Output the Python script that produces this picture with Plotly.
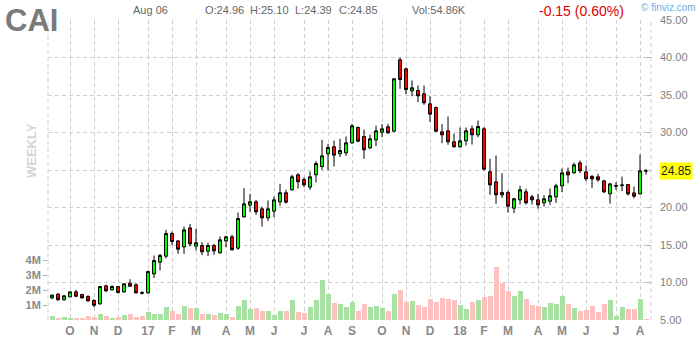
import pandas as pd
import plotly.graph_objects as go

# ---------------- data ----------------
week_start = "2016-09-12"
n_weeks = 100
dates = pd.date_range(week_start, periods=n_weeks, freq="7D")

open_ = [7.95, 8.44, 7.69, 8.09, 8.75, 8.40, 8.13, 7.60, 7.15, 9.55,
         9.02, 9.46, 8.75, 9.91, 9.69, 8.66, 8.62, 11.15, 12.71, 13.51,
         16.53, 15.55, 14.75, 17.28, 14.85, 14.93, 14.18, 14.93, 13.96, 15.55,
         16.09, 14.58, 18.75, 20.31, 20.76, 19.82, 18.62, 19.51, 20.76, 21.96,
         22.36, 24.36, 23.73, 22.71, 24.36, 25.47, 27.16, 28.09, 27.16, 27.29,
         28.62, 30.67, 29.47, 27.96, 29.02, 30.04, 30.76, 30.18, 39.69, 38.49,
         35.55, 35.60, 35.16, 33.82, 33.33, 30.09, 30.22, 28.76, 28.09, 28.89,
         30.49, 29.69, 30.49, 24.76, 23.42, 22.00, 22.00, 19.91, 21.02, 22.09,
         21.42, 21.02, 20.62, 20.84, 21.42, 22.89, 24.75, 24.62, 25.95, 24.75,
         24.13, 24.09, 23.55, 21.82, 22.82, 22.93, 23.06, 21.95, 21.82, 24.96]
high = [8.40, 8.62, 8.35, 8.84, 9.00, 8.49, 8.31, 7.78, 9.55, 9.73,
        9.64, 9.55, 9.91, 10.44, 9.91, 8.84, 11.60, 13.60, 13.82, 17.02,
        16.80, 15.68, 17.46, 17.82, 17.20, 15.38, 15.29, 15.15, 16.13, 16.22,
        16.36, 19.33, 22.58, 21.82, 21.02, 20.13, 20.93, 21.47, 23.16, 22.36,
        24.36, 24.58, 24.04, 24.80, 26.18, 29.02, 28.49, 28.93, 29.16, 29.47,
        31.16, 30.80, 30.40, 29.73, 30.93, 31.11, 31.16, 37.24, 40.00, 38.67,
        36.93, 36.27, 36.27, 34.84, 33.47, 31.11, 32.13, 29.87, 30.67, 30.67,
        30.93, 31.60, 30.71, 26.49, 26.93, 24.58, 22.27, 21.29, 22.89, 22.49,
        21.69, 21.82, 21.64, 22.53, 23.16, 25.20, 25.33, 26.00, 26.27, 25.60,
        24.35, 24.49, 23.69, 23.29, 23.38, 24.13, 23.15, 22.80, 27.06, 25.10]
low = [7.78, 7.60, 7.60, 8.04, 8.04, 7.86, 7.47, 6.71, 7.06, 8.75,
       8.93, 8.57, 8.66, 9.42, 8.53, 8.40, 8.53, 10.60, 11.60, 13.20,
       14.97, 13.82, 13.82, 14.80, 14.27, 13.64, 13.51, 13.69, 13.82, 14.71,
       14.27, 14.36, 18.67, 19.42, 19.02, 17.47, 18.18, 18.71, 20.22, 20.53,
       22.27, 22.53, 22.71, 22.36, 23.33, 25.02, 24.93, 25.47, 26.71, 26.89,
       28.49, 28.71, 26.49, 27.78, 28.18, 29.38, 29.82, 30.04, 35.82, 35.11,
       34.84, 34.04, 33.69, 31.38, 30.04, 28.58, 28.36, 28.00, 28.00, 28.27,
       28.40, 29.38, 24.93, 21.69, 20.49, 21.29, 19.33, 19.24, 20.40, 20.40,
       20.40, 19.82, 20.13, 20.35, 20.62, 22.04, 23.24, 24.49, 24.58, 23.51,
       22.58, 23.42, 21.91, 20.49, 22.36, 22.18, 21.60, 21.20, 21.73, 24.39]
close = [8.31, 7.69, 8.22, 8.75, 8.17, 7.95, 7.55, 6.97, 9.46, 8.89,
         9.46, 8.66, 9.82, 9.51, 8.62, 8.58, 11.46, 12.93, 13.60, 16.53,
         15.46, 14.44, 17.02, 15.15, 15.30, 14.09, 14.93, 14.22, 15.69, 16.09,
         14.36, 18.53, 20.49, 20.76, 19.42, 18.62, 19.82, 21.02, 21.96, 20.71,
         24.09, 23.42, 23.02, 24.09, 25.87, 26.89, 28.00, 26.98, 27.60, 28.62,
         30.89, 28.84, 27.69, 29.16, 30.22, 30.49, 29.96, 37.16, 37.07, 35.73,
         35.96, 34.89, 33.96, 32.44, 30.18, 29.69, 28.76, 28.09, 28.89, 30.22,
         29.69, 30.80, 25.11, 23.02, 21.69, 21.69, 20.18, 21.16, 22.36, 20.62,
         21.02, 20.35, 21.16, 21.56, 22.89, 24.62, 24.35, 25.69, 24.89, 23.82,
         23.82, 23.69, 22.09, 23.15, 22.93, 23.00, 21.82, 21.51, 24.89, 24.85]
volume_m = [0.27, 0.16, 0.22, 0.07, 0.13, 0.16, 0.29, 0.20, 0.40, 0.27,
            0.13, 0.22, 0.33, 0.40, 0.22, 0.29, 0.56, 0.42, 0.42, 0.87,
            0.62, 0.42, 0.93, 0.82, 0.82, 0.42, 0.42, 0.36, 0.49, 0.42,
            0.20, 0.93, 1.36, 0.76, 0.82, 0.62, 0.62, 0.36, 0.62, 0.62,
            1.36, 0.56, 0.49, 0.89, 1.36, 2.69, 1.76, 1.16, 1.09, 0.89,
            1.20, 0.60, 1.07, 0.87, 0.93, 0.80, 0.60, 1.73, 2.00, 1.20,
            1.27, 1.00, 0.87, 1.40, 1.20, 1.47, 1.40, 1.33, 1.00, 0.73,
            1.20, 1.33, 1.53, 1.60, 3.53, 2.49, 1.93, 1.60, 1.93, 1.40,
            1.00, 0.93, 0.87, 1.13, 1.07, 1.60, 1.07, 0.80, 0.60, 0.67,
            0.93, 0.53, 1.07, 1.33, 0.27, 0.87, 0.71, 0.71, 1.40, 0.055]

price_ticks = [5, 10, 15, 20, 25, 30, 35, 40, 45]
price_tick_labels = ["5.00", "10.00", "15.00", "20.00", "", "30.00", "35.00", "40.00", "45.00"]
vol_ticks_m = [1, 2, 3, 4]
vol_tick_labels = ["1M", "2M", "3M", "4M"]
month_letters = {1: None, 2: "F", 3: "M", 4: "A", 5: "M", 6: "J", 7: "J",
                 8: "A", 9: "S", 10: "O", 11: "N", 12: "D"}

ticker = "CAI"
header_date = "Aug 06"
header_ohlc = ["O:24.96", "H:25.10", "L:24.39", "C:24.85"]
header_vol = "Vol:54.86K"
header_change = "-0.15 (0.60%)"
last_price = 24.85

# ---------------- x ticks: week whose Friday starts a new month ----------------
tickvals, ticktext = [], []
fridays = dates + pd.Timedelta(days=4)
for k in range(1, len(dates)):
    if fridays[k].month != fridays[k - 1].month:
        tickvals.append(dates[k])
        m = fridays[k].month
        ticktext.append(f"{fridays[k].year % 100:02d}" if m == 1 else month_letters[m])

# ---------------- figure ----------------
ML, MR, MT, MB = 48, 49, 20, 20
W, H = 700, 340
PW, PH = W - ML - MR, H - MT - MB

def px(x):
    return (x - ML) / PW

def py(y):
    return (H - MB - y) / PH

week = pd.Timedelta(days=7)
vol_colors = ["#a8e2a2" if c >= o else "#ffc0c0" for o, c in zip(open_, close)]

fig = go.Figure()
fig.add_trace(go.Bar(
    x=dates, y=[v * 1e6 for v in volume_m], marker_color=vol_colors,
    marker_line_width=0, width=(week * 5 / 6).total_seconds() * 1000,
    yaxis="y", hoverinfo="skip", showlegend=False))
fig.add_trace(go.Candlestick(
    x=dates, open=open_, high=high, low=low, close=close, yaxis="y2",
    increasing=dict(fillcolor="#00ff00", line=dict(color="black", width=1)),
    decreasing=dict(fillcolor="#ff0000", line=dict(color="black", width=1)),
    whiskerwidth=0, showlegend=False))

grid = dict(gridcolor="#cfcfcf", griddash="4px,3px", gridwidth=1)
fig.update_layout(
    width=W, height=H, margin=dict(l=ML, r=MR, t=MT, b=MB, autoexpand=False),
    paper_bgcolor="white", plot_bgcolor="white",
    font=dict(family="Arial, Liberation Sans, sans-serif", color="#808080"),
    xaxis=dict(type="date", range=[dates[0] - week * 0.67, dates[-1] + week * 0.83],
               tickvals=tickvals, ticktext=ticktext, showgrid=True, **grid,
               ticks="", showline=False, zeroline=False, automargin=False,
               ticklabelstandoff=2,
               tickfont=dict(size=12, color="#8a8a8a", weight="bold"),
               rangeslider=dict(visible=False), fixedrange=True),
    yaxis=dict(range=[0, 20e6], tickvals=[v * 1e6 for v in vol_ticks_m],
               ticktext=vol_tick_labels, showgrid=False, zeroline=False,
               ticks="outside", ticklen=4, tickcolor="#b0b0b0", side="left",
               automargin=False,
               tickfont=dict(size=11, color="#8a8a8a", weight="bold")),
    yaxis2=dict(range=[5, 45], tickvals=price_ticks, ticktext=price_tick_labels,
                overlaying="y", side="right", showgrid=True, **grid,
                zeroline=False, ticks="inside", ticklen=4, tickcolor="#b0b0b0",
                ticklabelstandoff=8, automargin=False,
                tickfont=dict(size=11, color="#808080")),
    bargap=0, hovermode=False,
)

shapes = []
for xx in (0, 1):
    shapes.append(dict(type="line", xref="paper", yref="paper", x0=xx, x1=xx, y0=0, y1=1,
                       line=dict(color="#cfcfcf", width=1, dash="4px,3px"), layer="below"))
fig.update_layout(shapes=shapes)

ann = []
ann.append(dict(text=f"<b>{ticker}</b>", x=px(3), y=py(20), xanchor="left", yanchor="middle",
                font=dict(size=31, color="#7a7a7a",
                          family="Liberation Sans Narrow, Arial Narrow, Arial, sans-serif")))
ann.append(dict(text=header_date, x=px(131), y=py(10), xanchor="left", yanchor="middle",
                font=dict(size=11, color="#666666")))
for t, xpos in zip(header_ohlc, [203, 248, 293, 337]):
    ann.append(dict(text=t, x=px(xpos), y=py(10), xanchor="left", yanchor="middle",
                    font=dict(size=11, color="#666666")))
ann.append(dict(text=header_vol, x=px(410), y=py(10), xanchor="left", yanchor="middle",
                font=dict(size=11, color="#666666")))
ann.append(dict(text=header_change, x=px(537), y=py(11), xanchor="left", yanchor="middle",
                font=dict(size=14, color="#dd0000")))
ann.append(dict(text="© finviz.com", x=px(698), y=py(7), xanchor="right", yanchor="middle",
                font=dict(size=10, color="#6aaee0")))
ann.append(dict(text="<b>WEEKLY</b>", x=px(31), y=py(151), xanchor="center", yanchor="middle",
                textangle=-90, font=dict(size=13, color="#d6d6d6")))
ann.append(dict(text=f"{last_price:.2f}", x=px(659), y=last_price, yref="y2",
                xanchor="left", yanchor="middle", bgcolor="#ffff00", borderpad=1,
                font=dict(size=12, color="#222222"), showarrow=False, xref="paper"))
for a in ann:
    a.setdefault("xref", "paper")
    a.setdefault("yref", "paper")
    a["showarrow"] = False
fig.update_layout(annotations=ann)

fig.write_html("out.html")
